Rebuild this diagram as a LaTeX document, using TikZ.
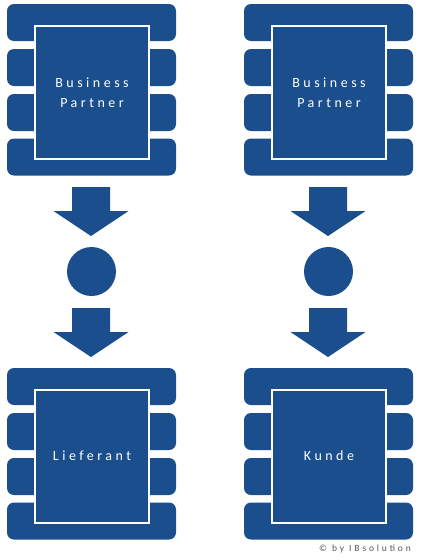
\documentclass[tikz,border=0pt]{standalone}
\usepackage{fontspec}
\setmainfont{Carlito}
\newfontfamily\spacedfont[LetterSpace=25]{Carlito}
\newfontfamily\smallspaced[LetterSpace=30]{Carlito}
\definecolor{ibblue}{RGB}{27,78,141}
\definecolor{ibgray}{RGB}{85,85,85}
\begin{document}
\begin{tikzpicture}[x=1pt,y=-1pt,
  bar/.style={rectangle,fill=ibblue,rounded corners=7pt,minimum width=169pt,minimum height=37pt,inner sep=0pt},
  core/.style={rectangle,fill=ibblue,draw=white,line width=2pt,minimum width=114pt,minimum height=133pt,inner sep=0pt,
    text=white,align=center,font=\spacedfont\fontsize{14}{19.5}\selectfont},
  arrowshape/.style={fill=ibblue,draw=none},
  dot/.style={circle,fill=ibblue,minimum size=49pt,inner sep=0pt},
  credit/.style={text=ibgray,font=\smallspaced\fontsize{9.5}{11}\selectfont,inner sep=0pt,anchor=east}
]
\useasboundingbox (0,0) rectangle (421,560);
% blocks
\foreach \n/\x/\y in {tl/91.5/0, tr/328.5/0, bl/91.5/364, br/328.5/364}{
  \node[bar] (\n-b1) at (\x,22.5+\y) {};
  \node[bar] (\n-b2) at (\x,67.5+\y) {};
  \node[bar] (\n-b3) at (\x,112.5+\y) {};
  \node[bar] (\n-b4) at (\x,157+\y) {};
}
\node[core] (tl) at (92,92.5) {Business\\Partner};
\node[core] (tr) at (329,92.5) {Business\\Partner};
\node[core] (bl) at (92,456) {Lieferant};
\node[core] (br) at (329,456) {Kunde};
% arrows and circles
\foreach \n/\x in {l/91, r/328}{
  \fill[arrowshape] (\x-19,187) -- (\x+19,187) -- (\x+19,211) -- (\x+37.5,211) -- (\x,236) -- (\x-37.5,211) -- (\x-19,211) -- cycle;
  \node[dot] (c\n) at (\x+0.5,271.5) {};
  \fill[arrowshape] (\x-19,308) -- (\x+19,308) -- (\x+19,332) -- (\x+37.5,332) -- (\x,357) -- (\x-37.5,332) -- (\x-19,332) -- cycle;
}
\node[credit] (copy) at (411,549) {© by IBsolution};
\end{tikzpicture}
\end{document}
